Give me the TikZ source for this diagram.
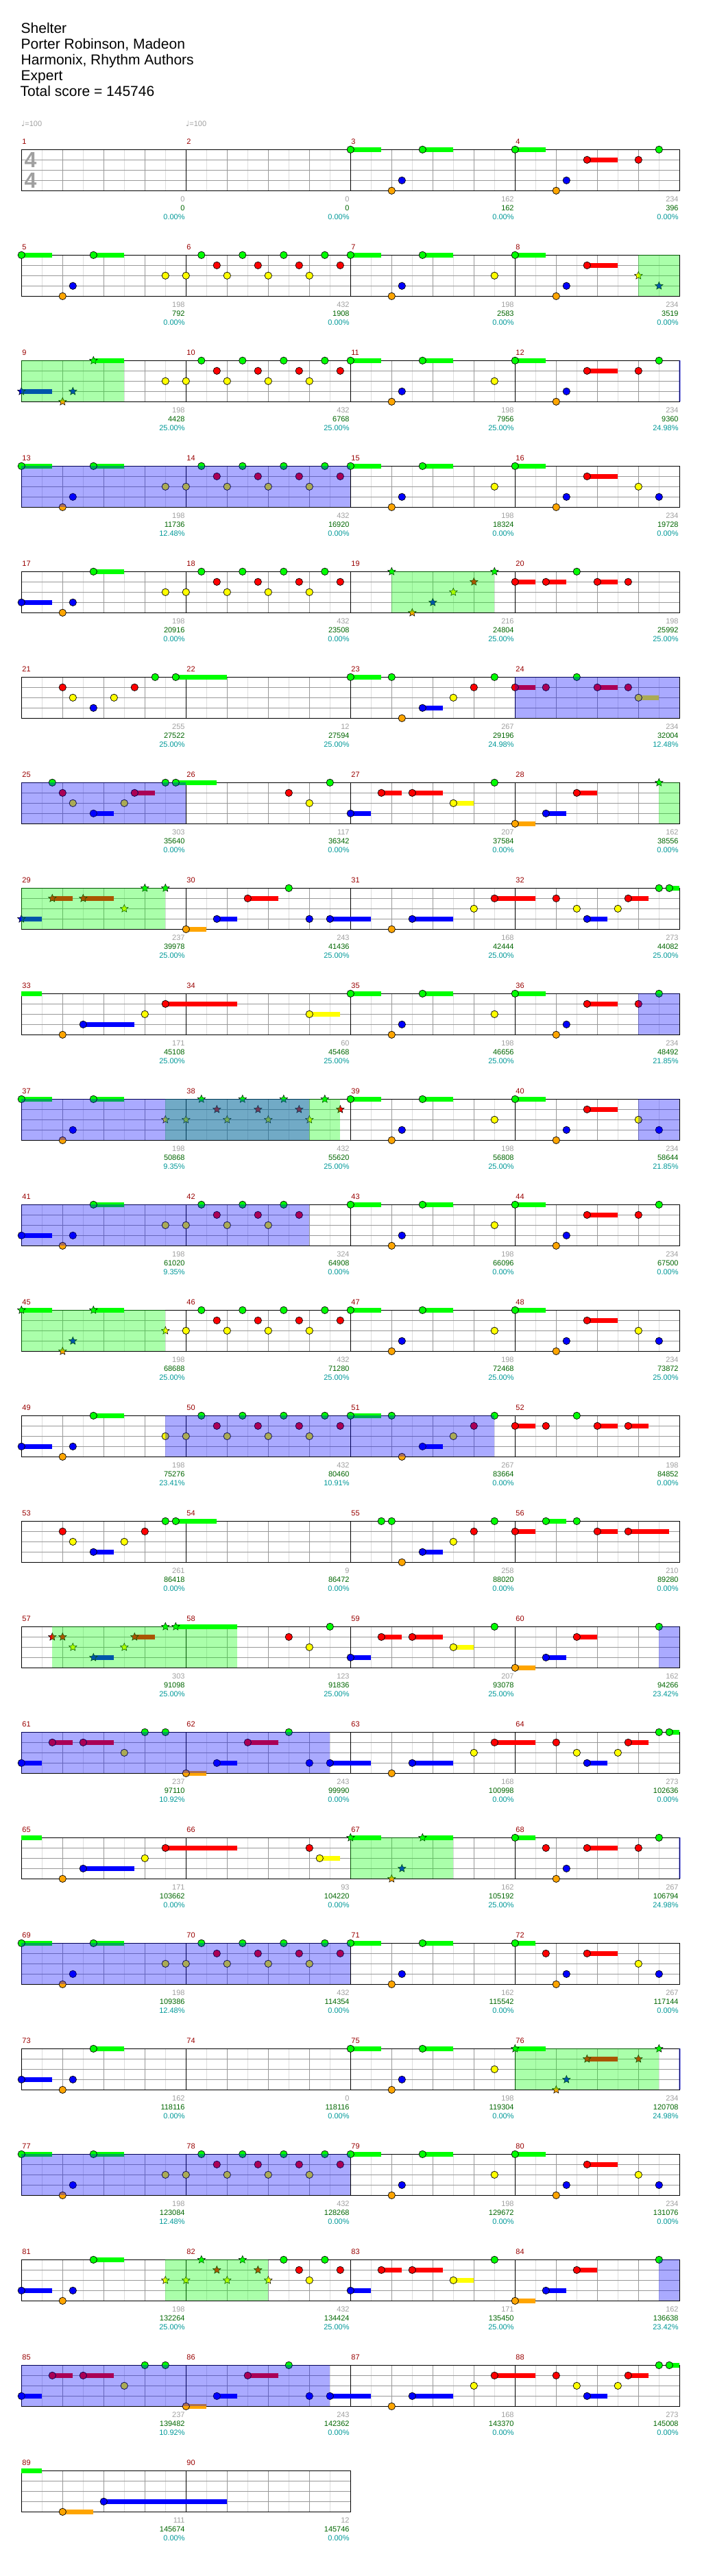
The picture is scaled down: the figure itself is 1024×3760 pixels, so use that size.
\documentclass[tikz,border=0pt]{standalone}
\usepackage{fontspec}
\setmainfont{Liberation Sans}
\newfontfamily\djv{DejaVu Sans}
\usetikzlibrary{shapes.geometric}
\definecolor{L0}{RGB}{0,255,0}
\definecolor{L1}{RGB}{255,0,0}
\definecolor{L2}{RGB}{255,255,0}
\definecolor{L3}{RGB}{0,0,255}
\definecolor{L4}{RGB}{255,165,0}
\definecolor{mred}{RGB}{153,0,0}
\definecolor{tgray}{RGB}{160,160,160}
\definecolor{tgreen}{RGB}{0,102,0}
\definecolor{tcyan}{RGB}{0,153,153}
\definecolor{gbeat}{RGB}{153,153,153}
\definecolor{glight}{RGB}{221,221,221}
\tikzset{
 notec/.style={draw=black, line width=0.7pt},
 starc/.style={star, star points=5, star point ratio=2.2, draw=black, line width=0.5pt, inner sep=0pt, minimum size=12pt},
 mnum/.style={text=mred, font=\fontsize{11}{11}\selectfont, inner sep=0pt, anchor=base west},
 lab/.style={font=\fontsize{11}{11}\selectfont, inner sep=0pt, anchor=base east},
 ttl/.style={font=\fontsize{21}{21}\selectfont, inner sep=0pt, anchor=base west},
 gl/.style={line width=1pt},
}
\newcommand\Nt[2]{\draw[notec, fill=L#1] (#2,#1) circle[radius=5.2pt];}
\newcommand\Su[3]{\fill[fill=L#1] (#2,#1-0.223) rectangle (#3,#1+0.223);}
\newcommand\Sr[2]{\node[starc, fill=L#1] at (#2,#1) {};}
\newcommand\notes[1]{\foreach \lA/\pA in {#1} {\Nt{\lA}{\pA}}}
\newcommand\sus[1]{\foreach \lA/\pA/\eA in {#1} {\Su{\lA}{\pA}{\eA}}}
\newcommand\stars[1]{\foreach \lA/\pA in {#1} {\Sr{\lA}{\pA}}}
\newcommand\GO[2]{\fill[fill=L0, fill opacity=0.3333] (#1,0) rectangle (#2,4);}
\newcommand\BO[2]{\fill[fill=L3, fill opacity=0.3333] (#1,0) rectangle (#2,4);}
\newcommand\gridfour{%
 \foreach \i in {1,3,...,31} \draw[glight, gl] (\i,0)--(\i,4);
 \foreach \j in {1,2,3} \draw[gbeat, gl] (0,\j)--(32,\j);
 \foreach \i in {2,4,6,10,12,14,18,20,22,26,28,30} \draw[gbeat, gl] (\i,0)--(\i,4);
 \foreach \i in {8,16,24} \draw[black, gl] (\i,0)--(\i,4);
 \draw[black, gl] (0,0) rectangle (32,4);}
\newcommand\gridtwo{%
 \foreach \i in {1,3,...,15} \draw[glight, gl] (\i,0)--(\i,4);
 \foreach \j in {1,2,3} \draw[gbeat, gl] (0,\j)--(16,\j);
 \foreach \i in {2,4,6,10,12,14} \draw[gbeat, gl] (\i,0)--(\i,4);
 \draw[black, gl] (8,0)--(8,4);
 \draw[black, gl] (0,0) rectangle (16,4);}
\newcommand\lab[4]{%
 \node[lab, text=tgray] at (8*#1+7.95,5.07) {#2};
 \node[lab, text=tgreen] at (8*#1+7.95,5.97) {#3};
 \node[lab, text=tcyan] at (8*#1+7.95,6.82) {#4};}
\newcommand\mn[2]{\node[mnum] at (8*#1+0.03,-0.5) {#2};}
\newcommand\mnfour[1]{\pgfmathtruncatemacro\mA{#1}\pgfmathtruncatemacro\mB{#1+1}\pgfmathtruncatemacro\mC{#1+2}\pgfmathtruncatemacro\mD{#1+3}%
 \mn{0}{\mA}\mn{1}{\mB}\mn{2}{\mC}\mn{3}{\mD}}
\newcommand\patA[1]{\notes{2/#1,0/#1+0.75,1/#1+1.5,2/#1+2,0/#1+2.75,1/#1+3.5,2/#1+4,0/#1+4.75,1/#1+5.5,2/#1+6,0/#1+6.75,1/#1+7.5}}
\newcommand\patAs[1]{\stars{2/#1,0/#1+0.75,1/#1+1.5,2/#1+2,0/#1+2.75,1/#1+3.5,2/#1+4,0/#1+4.75,1/#1+5.5,2/#1+6,0/#1+6.75,1/#1+7.5}}
\newcommand\patB[2]{\sus{#2/#1/#1+1.5,0/#1+3.5/#1+5}\notes{#2/#1,4/#1+2,3/#1+2.5,0/#1+3.5}}
\newcommand\patC[1]{\sus{0/#1/#1+1.5,1/#1+3.5/#1+5}\notes{0/#1,4/#1+2,3/#1+2.5,1/#1+3.5}}
% the "61-64" row, used twice
\newcommand\rowQ{%
\sus{3/0/1,1/1.5/2.5,1/3/4.5}\notes{3/0,1/1.5,1/3,2/5,0/6,0/7}
\sus{4/8/9,3/9.5/10.5,1/11/12.5,3/15/17}\notes{4/8,3/9.5,1/11,0/13,3/14,3/15}
\sus{3/19/21,1/23/25}\notes{4/18,3/19,2/22,1/23}
\sus{3/27.5/28.5,1/29.5/30.5,0/31.5/32}\notes{1/26,2/27,3/27.5,2/29,1/29.5,0/31,0/31.5}
\BO{0}{15}}
\newenvironment{chartrow}[1]{\begin{scope}[shift={(31.3pt,-#1pt)}, x=30pt, y=-15pt]}{\end{scope}}
\begin{document}
\begin{tikzpicture}
\useasboundingbox (0,0) rectangle (1024pt,-3760pt);
\fill[white] (0,0) rectangle (1024pt,-3760pt);
\node[ttl] (t1) at (30.5pt,-49pt) {Shelter};
\node[ttl] (t2) at (30.5pt,-72pt) {Porter Robinson, Madeon};
\node[ttl] (t3) at (30.5pt,-95pt) {Harmonix, Rhythm Authors};
\node[ttl] (t4) at (30.5pt,-118pt) {Expert};
\node[ttl] (t5) at (29.5pt,-141pt) {Total score = 145746};
\node[anchor=base west, inner sep=0pt, text=tgray, font=\fontsize{11}{11}\selectfont] (tp1) at (31pt,-185pt) {{\djv ♩}=100};
\node[anchor=base west, inner sep=0pt, text=tgray, font=\fontsize{11}{11}\selectfont] (tp2) at (271pt,-185pt) {{\djv ♩}=100};
% row 0
\begin{chartrow}{218.3}
\gridfour
\node[inner sep=0pt, text=tgray, font=\bfseries\fontsize{32}{32}\selectfont] (ts1) at (0.44,1) {4};
\node[inner sep=0pt, text=tgray, font=\bfseries\fontsize{32}{32}\selectfont] (ts2) at (0.44,3) {4};
\patB{16}{0}\patC{24}\notes{1/30,0/31}
\mnfour{1}
\lab{0}{0}{0}{0.00\%}\lab{1}{0}{0}{0.00\%}\lab{2}{162}{162}{0.00\%}\lab{3}{234}{396}{0.00\%}
\end{chartrow}
% row 1
\begin{chartrow}{372.3}
\gridfour
\patB{0}{0}\notes{2/7}\patA{8}\patB{16}{0}\notes{2/23}\patC{24}\stars{2/30,3/31}
\GO{30}{32}
\mnfour{5}
\lab{0}{198}{792}{0.00\%}\lab{1}{432}{1908}{0.00\%}\lab{2}{198}{2583}{0.00\%}\lab{3}{234}{3519}{0.00\%}
\end{chartrow}
% row 2
\begin{chartrow}{526.3}
\gridfour
\sus{3/0/1.5,0/3.5/5}\stars{3/0,4/2,3/2.5,0/3.5}\notes{2/7}
\patA{8}\patB{16}{0}\notes{2/23}\patC{24}\notes{1/30,0/31}
\GO{0}{5}\BO{31.95}{32.05}
\mnfour{9}
\lab{0}{198}{4428}{25.00\%}\lab{1}{432}{6768}{25.00\%}\lab{2}{198}{7956}{25.00\%}\lab{3}{234}{9360}{24.98\%}
\end{chartrow}
% row 3
\begin{chartrow}{680.3}
\gridfour
\patB{0}{0}\notes{2/7}\patA{8}\patB{16}{0}\notes{2/23}\patC{24}\notes{2/30,3/31}
\BO{0}{16}
\mnfour{13}
\lab{0}{198}{11736}{12.48\%}\lab{1}{432}{16920}{0.00\%}\lab{2}{198}{18324}{0.00\%}\lab{3}{234}{19728}{0.00\%}
\end{chartrow}
% row 4
\begin{chartrow}{834.3}
\gridfour
\patB{0}{3}\notes{2/7}\patA{8}
\stars{0/18,4/19,3/20,2/21,1/22,0/23}
\sus{1/24/25,1/25.5/26.5,1/28/29}\notes{1/24,1/25.5,0/27,1/28,1/29.5}
\GO{18}{23}
\mnfour{17}
\lab{0}{198}{20916}{0.00\%}\lab{1}{432}{23508}{0.00\%}\lab{2}{216}{24804}{25.00\%}\lab{3}{198}{25992}{25.00\%}
\end{chartrow}
% row 5
\begin{chartrow}{988.3}
\gridfour
\sus{0/7.5/10}\notes{1/2,2/2.5,3/3.5,2/4.5,1/5.5,0/6.5,0/7.5}
\sus{0/16/17.5,3/19.5/20.5}\notes{0/16,0/18,4/18.5,3/19.5,2/21,1/22,0/23}
\sus{1/24/25,1/28/29,2/30/31}\notes{1/24,1/25.5,0/27,1/28,1/29.5,2/30}
\BO{24}{32}
\mnfour{21}
\lab{0}{255}{27522}{25.00\%}\lab{1}{12}{27594}{25.00\%}\lab{2}{267}{29196}{24.98\%}\lab{3}{234}{32004}{12.48\%}
\end{chartrow}
% row 6
\begin{chartrow}{1142.3}
\gridfour
\sus{3/3.5/4.5,1/5.5/6.5,0/7.5/9.5}\notes{0/1.5,1/2,2/2.5,3/3.5,2/5,1/5.5,0/7,0/7.5}
\notes{1/13,2/14,0/15}
\sus{3/16/17,1/17.5/18.5,1/19/20.5,2/21/22}\notes{3/16,1/17.5,1/19,2/21,0/23}
\sus{4/24/25,3/25.5/26.5,1/27/28}\notes{4/24,3/25.5,1/27}\stars{0/31}
\GO{31}{32}\BO{0}{8}
\mnfour{25}
\lab{0}{303}{35640}{0.00\%}\lab{1}{117}{36342}{0.00\%}\lab{2}{207}{37584}{0.00\%}\lab{3}{162}{38556}{0.00\%}
\end{chartrow}
% row 7
\begin{chartrow}{1296.3}
\gridfour
\sus{3/0/1,1/1.5/2.5,1/3/4.5}\stars{3/0,1/1.5,1/3,2/5,0/6,0/7}
\sus{4/8/9,3/9.5/10.5,1/11/12.5,3/15/17}\notes{4/8,3/9.5,1/11,0/13,3/14,3/15}
\sus{3/19/21,1/23/25}\notes{4/18,3/19,2/22,1/23}
\sus{3/27.5/28.5,1/29.5/30.5,0/31.5/32}\notes{1/26,2/27,3/27.5,2/29,1/29.5,0/31,0/31.5}
\GO{0}{7}
\mnfour{29}
\lab{0}{237}{39978}{25.00\%}\lab{1}{243}{41436}{25.00\%}\lab{2}{168}{42444}{25.00\%}\lab{3}{273}{44082}{25.00\%}
\end{chartrow}
% row 8
\begin{chartrow}{1450.3}
\gridfour
\sus{0/0/1,3/3/5.5,1/7/10.5}\notes{4/2,3/3,2/6,1/7}
\sus{2/14/15.5}\notes{2/14}
\patB{16}{0}\notes{2/23}\patC{24}\notes{1/30,0/31}
\BO{30}{32}
\mnfour{33}
\lab{0}{171}{45108}{25.00\%}\lab{1}{60}{45468}{25.00\%}\lab{2}{198}{46656}{25.00\%}\lab{3}{234}{48492}{21.85\%}
\end{chartrow}
% row 9
\begin{chartrow}{1604.3}
\gridfour
\patB{0}{0}\stars{2/7}\patAs{8}
\patB{16}{0}\notes{2/23}\patC{24}\notes{2/30,3/31}
\GO{7}{15.5}\BO{0}{14}\BO{30}{32}
\mnfour{37}
\lab{0}{198}{50868}{9.35\%}\lab{1}{432}{55620}{25.00\%}\lab{2}{198}{56808}{25.00\%}\lab{3}{234}{58644}{21.85\%}
\end{chartrow}
% row 10
\begin{chartrow}{1758.3}
\gridfour
\patB{0}{3}\notes{2/7}
\notes{2/8,0/8.75,1/9.5,2/10,0/10.75,1/11.5,2/12,0/12.75,1/13.5}
\patB{16}{0}\notes{2/23}\patC{24}\notes{1/30,0/31}
\BO{0}{14}
\mnfour{41}
\lab{0}{198}{61020}{9.35\%}\lab{1}{324}{64908}{0.00\%}\lab{2}{198}{66096}{0.00\%}\lab{3}{234}{67500}{0.00\%}
\end{chartrow}
% row 11
\begin{chartrow}{1912.3}
\gridfour
\sus{0/0/1.5,0/3.5/5}\stars{0/0,4/2,3/2.5,0/3.5,2/7}
\patA{8}\patB{16}{0}\notes{2/23}\patC{24}\notes{2/30,3/31}
\GO{0}{7}
\mnfour{45}
\lab{0}{198}{68688}{25.00\%}\lab{1}{432}{71280}{25.00\%}\lab{2}{198}{72468}{25.00\%}\lab{3}{234}{73872}{25.00\%}
\end{chartrow}
% row 12
\begin{chartrow}{2066.3}
\gridfour
\patB{0}{3}\notes{2/7}\patA{8}
\sus{0/16/17.5,3/19.5/20.5}\notes{0/16,0/18,4/18.5,3/19.5,2/21,1/22,0/23}
\sus{1/24/25,1/28/29,1/29.5/30.5}\notes{1/24,1/25.5,0/27,1/28,1/29.5}
\BO{7}{23}
\mnfour{49}
\lab{0}{198}{75276}{23.41\%}\lab{1}{432}{80460}{10.91\%}\lab{2}{267}{83664}{0.00\%}\lab{3}{198}{84852}{0.00\%}
\end{chartrow}
% row 13
\begin{chartrow}{2220.3}
\gridfour
\sus{3/3.5/4.5,0/7.5/9.5}\notes{1/2,2/2.5,3/3.5,2/5,1/6,0/7,0/7.5}
\sus{3/19.5/20.5}\notes{0/17.5,0/18,4/18.5,3/19.5,2/21,1/22,0/23}
\sus{1/24/25,0/25.5/26.5,1/28/29,1/29.5/31.5}\notes{1/24,0/25.5,0/27,1/28,1/29.5}
\mnfour{53}
\lab{0}{261}{86418}{0.00\%}\lab{1}{9}{86472}{0.00\%}\lab{2}{258}{88020}{0.00\%}\lab{3}{210}{89280}{0.00\%}
\end{chartrow}
% row 14
\begin{chartrow}{2374.3}
\gridfour
\sus{3/3.5/4.5,1/5.5/6.5,0/7.5/10.5}\stars{1/1.5,1/2,2/2.5,3/3.5,2/5,1/5.5,0/7,0/7.5}
\notes{1/13,2/14,0/15}
\sus{3/16/17,1/17.5/18.5,1/19/20.5,2/21/22}\notes{3/16,1/17.5,1/19,2/21,0/23}
\sus{4/24/25,3/25.5/26.5,1/27/28}\notes{4/24,3/25.5,1/27,0/31}
\GO{1.5}{10.5}\BO{31}{32}
\mnfour{57}
\lab{0}{303}{91098}{25.00\%}\lab{1}{123}{91836}{25.00\%}\lab{2}{207}{93078}{25.00\%}\lab{3}{162}{94266}{23.42\%}
\end{chartrow}
% row 15
\begin{chartrow}{2528.3}
\gridfour
\rowQ
\mnfour{61}
\lab{0}{237}{97110}{10.92\%}\lab{1}{243}{99990}{0.00\%}\lab{2}{168}{100998}{0.00\%}\lab{3}{273}{102636}{0.00\%}
\end{chartrow}
% row 16
\begin{chartrow}{2682.3}
\gridfour
\sus{0/0/1,3/3/5.5,1/7/10.5}\notes{4/2,3/3,2/6,1/7}
\sus{2/14.5/15.5}\notes{1/14,2/14.5}
\sus{0/16/17.5,0/19.5/21}\stars{0/16,4/18,3/18.5,0/19.5}
\sus{0/24/25,1/27.5/29}\notes{0/24,1/25.5,4/26,3/26.5,1/27.5,1/30,0/31}
\GO{16}{21}\BO{31.95}{32.05}
\mnfour{65}
\lab{0}{171}{103662}{0.00\%}\lab{1}{93}{104220}{0.00\%}\lab{2}{162}{105192}{25.00\%}\lab{3}{267}{106794}{24.98\%}
\end{chartrow}
% row 17
\begin{chartrow}{2836.3}
\gridfour
\patB{0}{0}\notes{2/7}\patA{8}\patB{16}{0}
\sus{0/24/25,1/27.5/29}\notes{0/24,1/25.5,4/26,3/26.5,1/27.5,2/30,3/31}
\BO{0}{16}
\mnfour{69}
\lab{0}{198}{109386}{12.48\%}\lab{1}{432}{114354}{0.00\%}\lab{2}{162}{115542}{0.00\%}\lab{3}{267}{117144}{0.00\%}
\end{chartrow}
% row 18
\begin{chartrow}{2990.3}
\gridfour
\patB{0}{3}\patB{16}{0}\notes{2/23}
\sus{0/24/25.5,1/27.5/29}\stars{0/24,4/26,3/26.5,1/27.5,1/30,0/31}
\GO{24}{31}\BO{31.95}{32.05}
\mnfour{73}
\lab{0}{162}{118116}{0.00\%}\lab{1}{0}{118116}{0.00\%}\lab{2}{198}{119304}{0.00\%}\lab{3}{234}{120708}{24.98\%}
\end{chartrow}
% row 19
\begin{chartrow}{3144.3}
\gridfour
\patB{0}{0}\notes{2/7}\patA{8}\patB{16}{0}\notes{2/23}\patC{24}\notes{2/30,3/31}
\BO{0}{16}
\mnfour{77}
\lab{0}{198}{123084}{12.48\%}\lab{1}{432}{128268}{0.00\%}\lab{2}{198}{129672}{0.00\%}\lab{3}{234}{131076}{0.00\%}
\end{chartrow}
% row 20
\begin{chartrow}{3298.3}
\gridfour
\patB{0}{3}\stars{2/7}
\stars{2/8,0/8.75,1/9.5,2/10,0/10.75,1/11.5,2/12}\notes{0/12.75,1/13.5,2/14,0/14.75,1/15.5}
\sus{3/16/17,1/17.5/18.5,1/19/20.5,2/21/22}\notes{3/16,1/17.5,1/19,2/21,0/23}
\sus{4/24/25,3/25.5/26.5,1/27/28}\notes{4/24,3/25.5,1/27,0/31}
\GO{7}{12}\BO{31}{32}
\mnfour{81}
\lab{0}{198}{132264}{25.00\%}\lab{1}{432}{134424}{25.00\%}\lab{2}{171}{135450}{25.00\%}\lab{3}{162}{136638}{23.42\%}
\end{chartrow}
% row 21
\begin{chartrow}{3452.3}
\gridfour
\rowQ
\mnfour{85}
\lab{0}{237}{139482}{10.92\%}\lab{1}{243}{142362}{0.00\%}\lab{2}{168}{143370}{0.00\%}\lab{3}{273}{145008}{0.00\%}
\end{chartrow}
% row 22
\begin{chartrow}{3606.3}
\gridtwo
\sus{0/0/1,4/2/3.5,3/4/10}\notes{4/2,3/4}
\mn{0}{89}\mn{1}{90}
\lab{0}{111}{145674}{0.00\%}\lab{1}{12}{145746}{0.00\%}
\end{chartrow}
\end{tikzpicture}
\end{document}
